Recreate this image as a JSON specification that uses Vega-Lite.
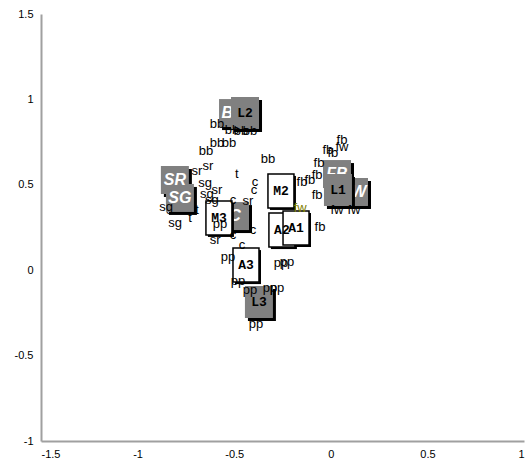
{
  "$schema": "https://vega.github.io/schema/vega-lite/v6.json",
  "width": 483,
  "height": 427,
  "autosize": "none",
  "padding": {"left": 41, "top": 14, "right": 2, "bottom": 24},
  "config": {
    "view": {"stroke": null},
    "axis": {"grid": false, "ticks": false, "domainColor": "#a0a0a0", "domainWidth": 2, "labelFont": "Liberation Sans", "labelFontSize": 11, "labelColor": "#000000", "title": null, "labelExpr": "'' + datum.value"}
  },
  "datasets": {
    "small": [
      {"x": -0.589, "y": 0.855, "label": "bb", "grp": "a"},
      {"x": -0.511, "y": 0.820, "label": "bb", "grp": "a"},
      {"x": -0.465, "y": 0.815, "label": "bb", "grp": "a"},
      {"x": -0.418, "y": 0.814, "label": "bb", "grp": "a"},
      {"x": -0.589, "y": 0.745, "label": "bb", "grp": "a"},
      {"x": -0.527, "y": 0.745, "label": "bb", "grp": "a"},
      {"x": -0.646, "y": 0.698, "label": "bb", "grp": "a"},
      {"x": -0.325, "y": 0.651, "label": "bb", "grp": "a"},
      {"x": -0.636, "y": 0.610, "label": "sr", "grp": "a"},
      {"x": -0.693, "y": 0.581, "label": "sr", "grp": "a"},
      {"x": -0.589, "y": 0.470, "label": "sr", "grp": "a"},
      {"x": -0.599, "y": 0.177, "label": "sr", "grp": "a"},
      {"x": -0.429, "y": 0.405, "label": "sr", "grp": "a"},
      {"x": -0.651, "y": 0.511, "label": "sg", "grp": "a"},
      {"x": -0.853, "y": 0.370, "label": "sg", "grp": "a"},
      {"x": -0.806, "y": 0.276, "label": "sg", "grp": "a"},
      {"x": -0.641, "y": 0.446, "label": "sg", "grp": "a"},
      {"x": -0.615, "y": 0.411, "label": "sg", "grp": "a"},
      {"x": -0.486, "y": 0.563, "label": "t", "grp": "a"},
      {"x": -0.729, "y": 0.306, "label": "t", "grp": "a"},
      {"x": -0.692, "y": 0.352, "label": "t", "grp": "a"},
      {"x": -0.392, "y": 0.516, "label": "c", "grp": "a"},
      {"x": -0.397, "y": 0.470, "label": "c", "grp": "a"},
      {"x": -0.506, "y": 0.411, "label": "c", "grp": "a"},
      {"x": -0.403, "y": 0.235, "label": "c", "grp": "a"},
      {"x": -0.506, "y": 0.206, "label": "c", "grp": "a"},
      {"x": -0.460, "y": 0.148, "label": "c", "grp": "a"},
      {"x": -0.574, "y": 0.270, "label": "pp", "grp": "a"},
      {"x": -0.532, "y": 0.077, "label": "pp", "grp": "a"},
      {"x": -0.258, "y": 0.042, "label": "pp", "grp": "a"},
      {"x": -0.227, "y": 0.048, "label": "pp", "grp": "a"},
      {"x": -0.480, "y": -0.063, "label": "pp", "grp": "a"},
      {"x": -0.418, "y": -0.116, "label": "pp", "grp": "a"},
      {"x": -0.315, "y": -0.104, "label": "pp", "grp": "a"},
      {"x": -0.278, "y": -0.104, "label": "pp", "grp": "a"},
      {"x": -0.387, "y": -0.317, "label": "pp", "grp": "a"},
      {"x": 0.058, "y": 0.762, "label": "fb", "grp": "a"},
      {"x": -0.015, "y": 0.704, "label": "fb", "grp": "a"},
      {"x": 0.011, "y": 0.686, "label": "fb", "grp": "a"},
      {"x": -0.061, "y": 0.628, "label": "fb", "grp": "a"},
      {"x": -0.149, "y": 0.516, "label": "fb", "grp": "a"},
      {"x": -0.108, "y": 0.528, "label": "fb", "grp": "a"},
      {"x": -0.071, "y": 0.557, "label": "fb", "grp": "a"},
      {"x": -0.071, "y": 0.440, "label": "fb", "grp": "a"},
      {"x": -0.056, "y": 0.253, "label": "fb", "grp": "a"},
      {"x": 0.058, "y": 0.721, "label": "fw", "grp": "a"},
      {"x": 0.032, "y": 0.352, "label": "fw", "grp": "a"},
      {"x": 0.120, "y": 0.352, "label": "fw", "grp": "a"},
      {"x": -0.159, "y": 0.364, "label": "fw", "grp": "b"}
    ],
    "gbox": [
      {"x": -0.506, "y": 0.920, "label": "BB"},
      {"x": -0.807, "y": 0.528, "label": "SR"},
      {"x": -0.781, "y": 0.423, "label": "SG"},
      {"x": -0.496, "y": 0.317, "label": "C"},
      {"x": 0.032, "y": 0.563, "label": "FB"},
      {"x": 0.120, "y": 0.458, "label": "FW"}
    ],
    "lbox": [
      {"x": -0.444, "y": 0.920, "label": "L2"},
      {"x": 0.037, "y": 0.470, "label": "L1"},
      {"x": -0.372, "y": -0.186, "label": "L3"}
    ],
    "wbox": [
      {"x": -0.258, "y": 0.464, "label": "M2"},
      {"x": -0.579, "y": 0.306, "label": "M3"},
      {"x": -0.253, "y": 0.235, "label": "A2"},
      {"x": -0.180, "y": 0.247, "label": "A1"},
      {"x": -0.439, "y": 0.030, "label": "A3"}
    ]
  },
  "encoding": {
    "x": {"field": "x", "type": "quantitative", "scale": {"domain": [-1.5, 1], "nice": false, "zero": false}, "axis": {"values": [-1.5, -1, -0.5, 0, 0.5, 1], "labelPadding": 7}},
    "y": {"field": "y", "type": "quantitative", "scale": {"domain": [-1, 1.5], "nice": false, "zero": false}, "axis": {"values": [-1, -0.5, 0, 0.5, 1, 1.5], "labelPadding": 8}}
  },
  "layer": [
    {"mark": {"type": "rule", "color": "#a0a0a0", "strokeWidth": 2}, "encoding": {"y": {"datum": 1.5}, "x": null}},
    {"mark": {"type": "rule", "color": "#333333", "strokeWidth": 1.2}, "encoding": {"x": {"datum": 0}, "y": null}},
    {"mark": {"type": "rule", "color": "#333333", "strokeWidth": 1.2}, "encoding": {"y": {"datum": 0}, "x": null}},
    {"data": {"name": "gbox"}, "mark": {"type": "point", "shape": "square", "filled": true, "size": 784, "color": "#000000", "opacity": 1, "xOffset": 3, "yOffset": 3}},
    {"data": {"name": "gbox"}, "mark": {"type": "point", "shape": "square", "filled": true, "size": 784, "color": "#808080", "opacity": 1}},
    {"data": {"name": "gbox"}, "mark": {"type": "text", "font": "Liberation Sans", "fontSize": 16, "fontStyle": "italic", "fontWeight": "bold", "color": "#ffffff", "align": "center", "baseline": "middle"}, "encoding": {"text": {"field": "label"}}},
    {"data": {"name": "lbox"}, "mark": {"type": "point", "shape": "M-1,-1.143H1V1.143H-1Z", "filled": true, "size": 784, "color": "#000000", "opacity": 1, "xOffset": 3, "yOffset": 3}},
    {"data": {"name": "lbox"}, "mark": {"type": "point", "shape": "M-1,-1.143H1V1.143H-1Z", "filled": true, "size": 784, "color": "#808080", "opacity": 1}},
    {"data": {"name": "lbox"}, "mark": {"type": "text", "font": "Liberation Mono", "fontSize": 13, "fontWeight": "bold", "color": "#000000", "align": "center", "baseline": "middle"}, "encoding": {"text": {"field": "label"}}},
    {"data": {"name": "wbox"}, "mark": {"type": "point", "shape": "M-1,-1.308H1V1.308H-1Z", "filled": true, "size": 676, "color": "#000000", "opacity": 1, "xOffset": 2, "yOffset": 2}},
    {"data": {"name": "wbox"}, "mark": {"type": "point", "shape": "M-1,-1.308H1V1.308H-1Z", "filled": true, "size": 676, "fill": "#ffffff", "stroke": "#000000", "strokeWidth": 1.5, "opacity": 1}},
    {"data": {"name": "wbox"}, "mark": {"type": "text", "font": "Liberation Mono", "fontSize": 13, "fontWeight": "bold", "color": "#000000", "align": "center", "baseline": "middle"}, "encoding": {"text": {"field": "label"}}},
    {"data": {"name": "small"}, "transform": [{"filter": "datum.grp == 'a'"}], "mark": {"type": "text", "font": "Liberation Sans", "fontSize": 13, "align": "center", "baseline": "middle", "color": "#000000"}, "encoding": {"text": {"field": "label"}}},
    {"data": {"name": "small"}, "transform": [{"filter": "datum.grp == 'b'"}], "mark": {"type": "text", "font": "Liberation Sans", "fontSize": 13, "align": "center", "baseline": "middle", "color": "#808000"}, "encoding": {"text": {"field": "label"}}}
  ]
}
